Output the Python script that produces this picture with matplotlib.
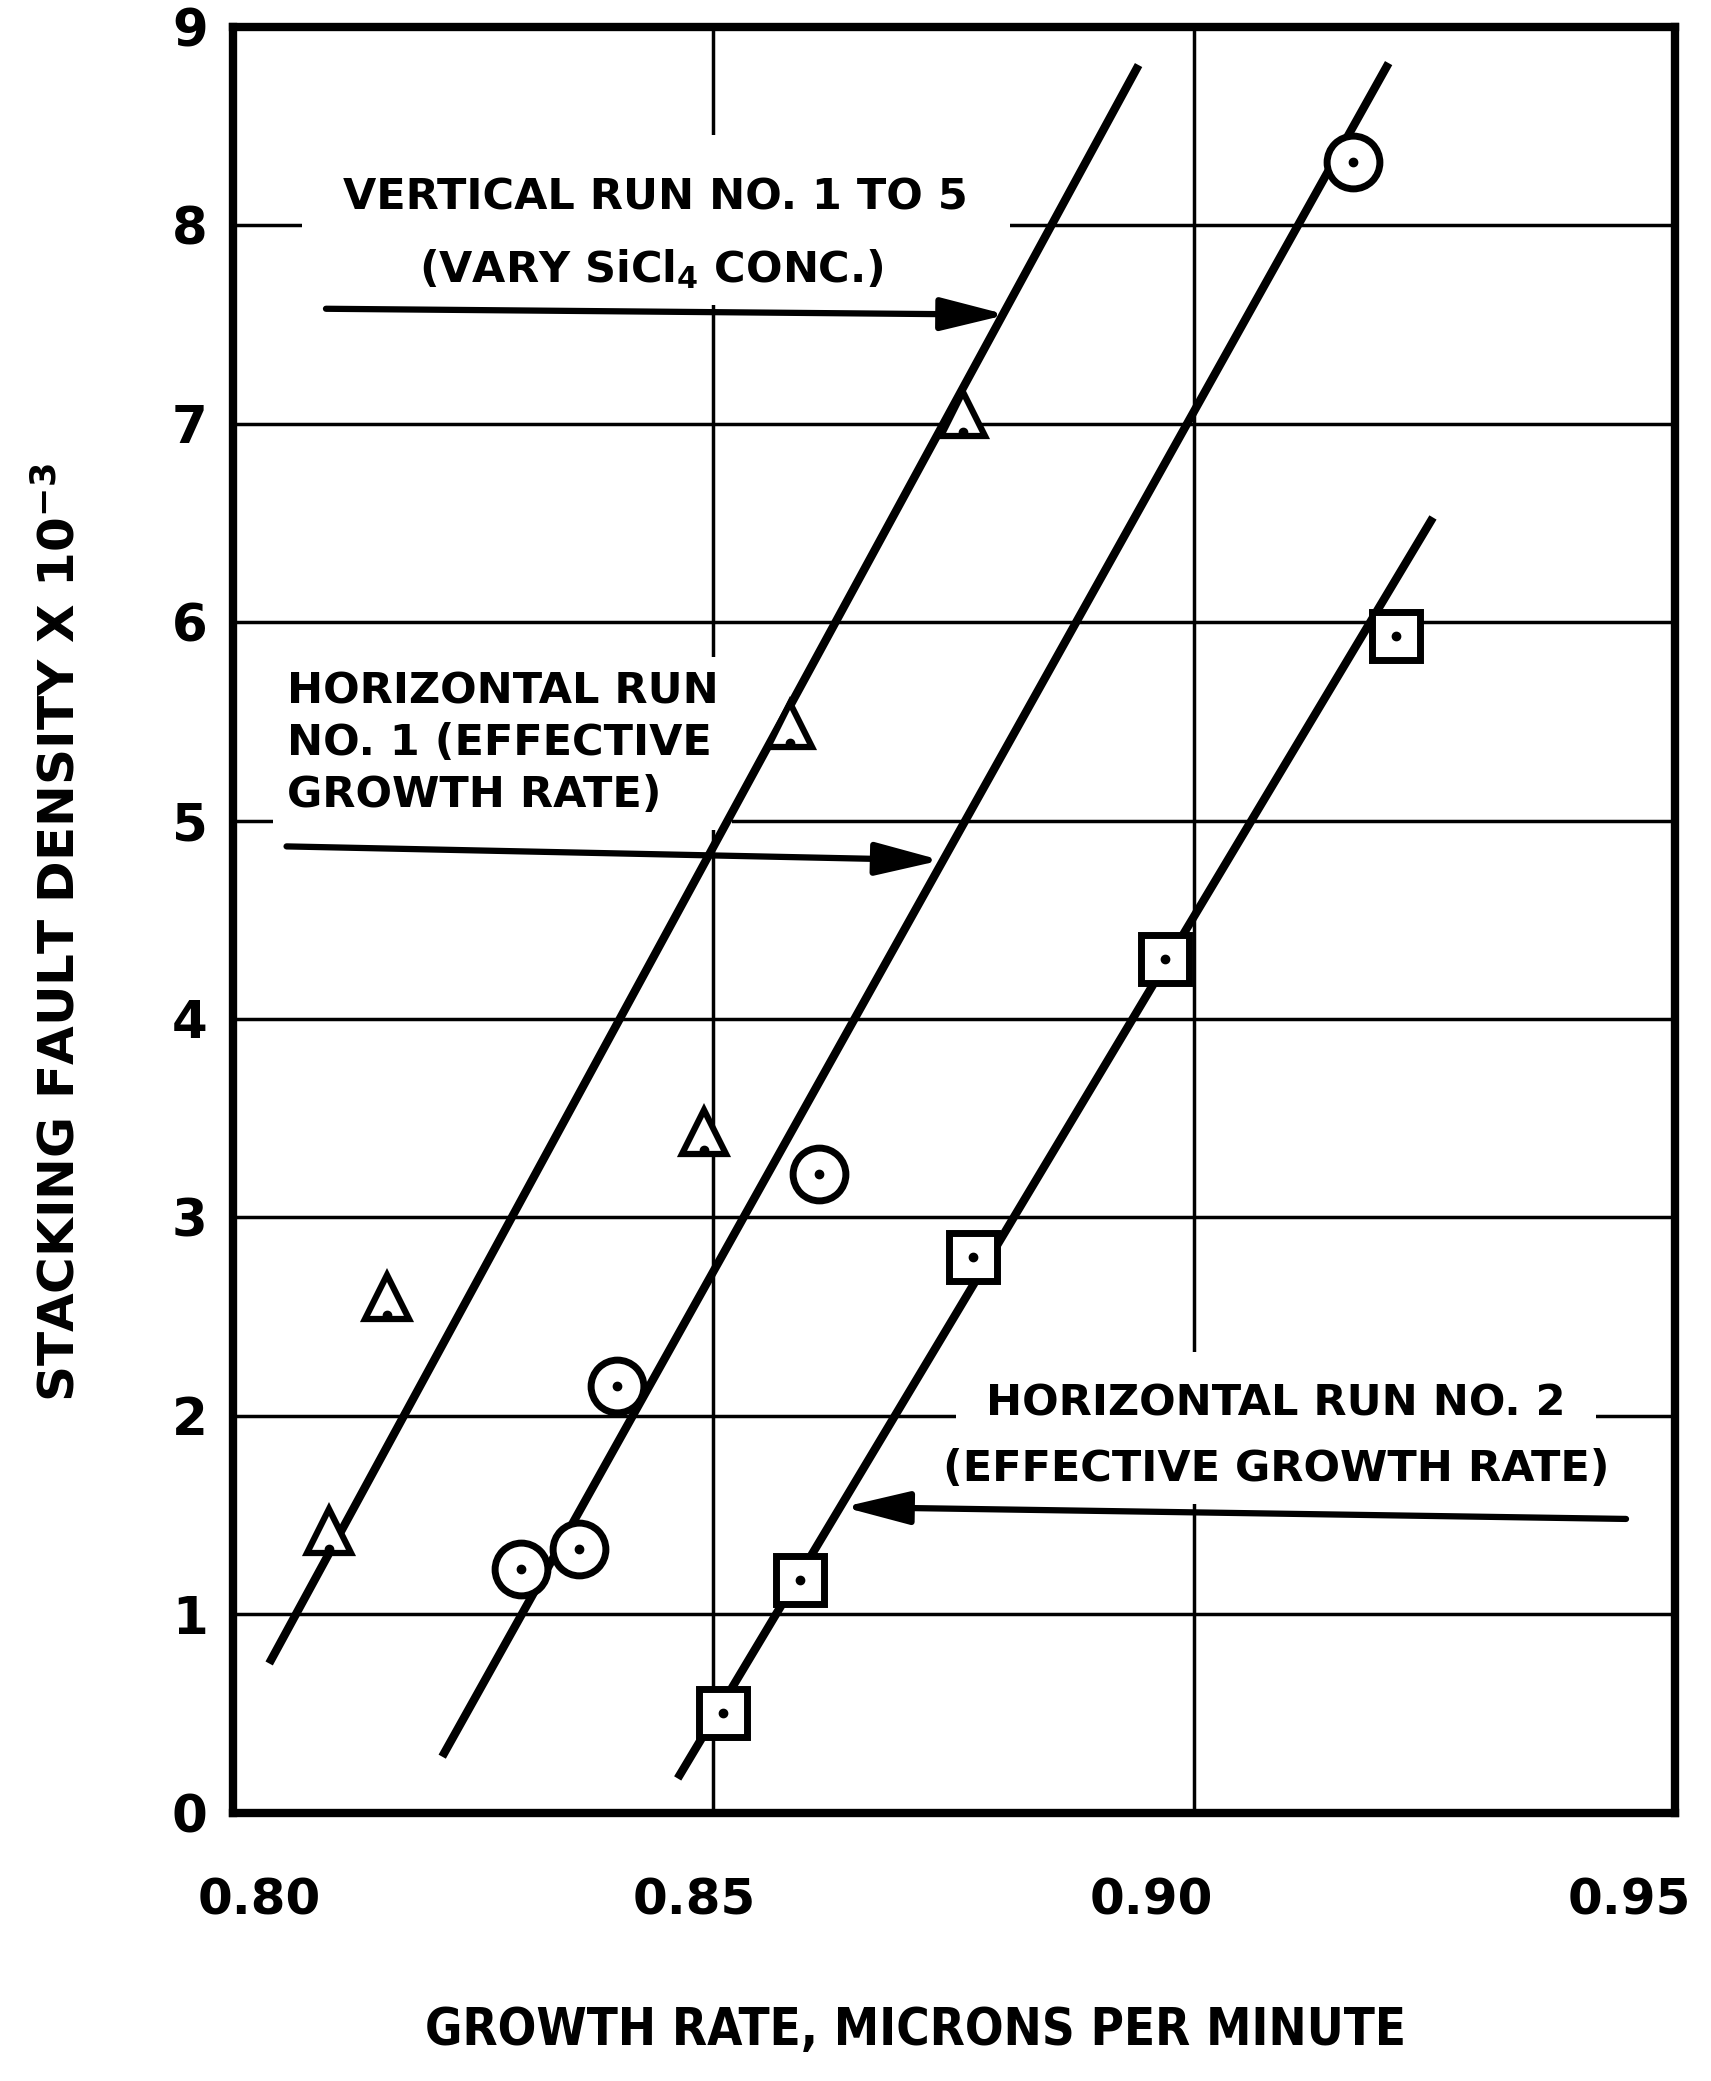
import matplotlib
matplotlib.use("Agg")
import matplotlib.pyplot as plt
from matplotlib.transforms import ScaledTranslation

vert_x = [0.810, 0.816, 0.849, 0.858, 0.876]
vert_y = [1.42, 2.60, 3.43, 5.48, 7.05]

horiz1_x = [0.830, 0.836, 0.840, 0.861, 0.9165]
horiz1_y = [1.23, 1.33, 2.15, 3.22, 8.32]

horiz2_x = [0.851, 0.859, 0.877, 0.897, 0.921]
horiz2_y = [0.50, 1.17, 2.80, 4.30, 5.93]

# hand drawn trend lines (end points)
vert_line_x = [0.804, 0.894]
vert_line_y = [0.77, 8.79]
horiz1_line_x = [0.822, 0.920]
horiz1_line_y = [0.30, 8.80]
horiz2_line_x = [0.8465, 0.9246]
horiz2_line_y = [0.19, 6.51]

x_ticks = [0.80, 0.85, 0.90, 0.95]
x_ticklabels = ["0.80", "0.85", "0.90", "0.95"]
y_ticks = list(range(0, 10))

fig = plt.figure(figsize=(17.11, 20.81), dpi=100)
ax = fig.add_axes([0.136, 0.129, 0.843, 0.858])

ax.set_xlim(0.80, 0.95)
ax.set_ylim(0, 9)
ax.set_xticks(x_ticks)
ax.set_xticklabels(x_ticklabels, fontweight="bold")
ax.set_yticks(y_ticks)
ax.set_yticklabels([str(v) for v in y_ticks], fontweight="bold")
ax.tick_params(axis="x", length=0, pad=46, labelsize=36)
ax.tick_params(axis="y", length=0, pad=18, labelsize=37)
ax.grid(True, color="black", linewidth=2.5)
for s in ax.spines.values():
    s.set_linewidth(6)

# the hand lettered x labels sit a bit off their grid lines
shifts = [0.27, -0.19, -0.43, -0.46]
for lab, dx in zip(ax.get_xticklabels(), shifts):
    lab.set_transform(lab.get_transform() + ScaledTranslation(dx, 0, fig.dpi_scale_trans))

# trend lines
ax.plot(vert_line_x, vert_line_y, color="black", lw=6, zorder=3)
ax.plot(horiz1_line_x, horiz1_line_y, color="black", lw=6, zorder=3)
ax.plot(horiz2_line_x, horiz2_line_y, color="black", lw=6, zorder=3)

# data points, open symbols with a dot in the middle
ax.plot(vert_x, vert_y, ls="none", marker="^", ms=31, mfc="white",
        mec="black", mew=4.5, zorder=4)
ax.plot(horiz1_x, horiz1_y, ls="none", marker="o", ms=38, mfc="white",
        mec="black", mew=5, zorder=4)
ax.plot(horiz2_x, horiz2_y, ls="none", marker="s", ms=35, mfc="white",
        mec="black", mew=5, zorder=4)
for xs, ys, off in [(vert_x, vert_y, -0.09), (horiz1_x, horiz1_y, 0), (horiz2_x, horiz2_y, 0)]:
    ax.plot(xs, [v + off for v in ys], ls="none", marker="o", ms=6,
            color="black", zorder=5)

box = dict(facecolor="white", edgecolor="none", pad=10)
tfont = dict(fontsize=31, fontweight="bold", color="black", zorder=2.5)

ax.text(0.844, 8.14, "VERTICAL RUN NO. 1 TO 5", ha="center", va="center",
        bbox=dict(facecolor="white", edgecolor="none", pad=30), **tfont)
ax.text(0.8435, 7.78, "(VARY SiCl$_\\mathbf{4}$ CONC.)", ha="center", va="center",
        bbox=box, **tfont)
ax.text(0.8056, 5.39, "HORIZONTAL RUN\nNO. 1 (EFFECTIVE\nGROWTH RATE)",
        ha="left", va="center", linespacing=1.3, bbox=box, **tfont)
ax.text(0.9085, 2.06, "HORIZONTAL RUN NO. 2", ha="center", va="center",
        bbox=dict(facecolor="white", edgecolor="none", pad=22), **tfont)
ax.text(0.9085, 1.73, "(EFFECTIVE GROWTH RATE)", ha="center", va="center",
        bbox=box, **tfont)

arrow = dict(arrowstyle="-|>,head_length=2.0,head_width=0.5", lw=4.5,
             color="black", mutation_scale=20, shrinkA=0, shrinkB=0)
ax.annotate("", xy=(0.8805, 7.55), xytext=(0.8097, 7.58), arrowprops=arrow, zorder=6)
ax.annotate("", xy=(0.8737, 4.80), xytext=(0.8056, 4.87), arrowprops=arrow, zorder=6)
ax.annotate("", xy=(0.8635, 1.54), xytext=(0.9449, 1.48), arrowprops=arrow, zorder=6)

fig.text(0.035, 0.552, "STACKING FAULT DENSITY X 10$^{\\mathbf{-3}}$", rotation=90,
         ha="center", va="center", fontsize=36, fontweight="bold")
fig.text(0.535, 0.024, "GROWTH RATE, MICRONS PER MINUTE", ha="center",
         va="center", fontsize=36.5, fontweight="bold", fontstretch="condensed")

fig.savefig("out.png", dpi=100)
